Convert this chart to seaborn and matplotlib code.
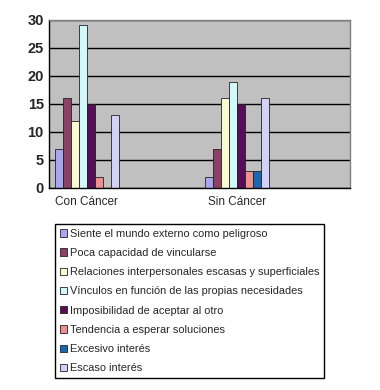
import pandas as pd
from matplotlib import pyplot as plt
import seaborn as sns

# Categories (blank slots keep the empty space Excel leaves between groups)
groups = ['Con Cáncer', ' ', 'Sin Cáncer', '  ']
series = [
    'Siente el mundo externo como peligroso',
    'Poca capacidad de vincularse',
    'Relaciones interpersonales escasas y superficiales',
    'Vínculos en función de las propias necesidades',
    'Imposibilidad de aceptar al otro',
    'Tendencia a esperar soluciones',
    'Excesivo interés',
    'Escaso interés',
]
con_cancer = [7, 16, 12, 29, 15, 2, 0, 13]
sin_cancer = [2, 7, 16, 19, 15, 3, 3, 16]
colors = ['#9999FF', '#993366', '#FFFFCC', '#CCFFFF',
          '#660066', '#FF8080', '#0066CC', '#CCCCFF']

df = pd.DataFrame({
    'grupo': ['Con Cáncer'] * len(series) + ['Sin Cáncer'] * len(series),
    'serie': series * 2,
    'valor': con_cancer + sin_cancer,
})

sns.set_style('white')
plt.rcParams['font.family'] = ['Liberation Sans', 'DejaVu Sans']

fig = plt.figure(figsize=(3.8, 3.9), dpi=100)
ax = fig.add_axes([0.13, 0.518, 0.79, 0.431])
ax.set_facecolor('#C0C0C0')

sns.barplot(data=df, x='grupo', y='valor', hue='serie', order=groups,
            hue_order=series, palette=colors, width=0.85, gap=0,
            edgecolor='#222222', linewidth=0.6, ax=ax, legend=True)

ax.set_ylim(0, 30)
ax.set_xlim(-0.5, 3.5)
ax.set_yticks(range(0, 31, 5))
ax.yaxis.grid(True, color='black', linewidth=1)
ax.set_axisbelow(True)
ax.set_xlabel('')
ax.set_ylabel('')
for lab in ax.get_yticklabels():
    lab.set_fontweight('bold')
    lab.set_fontsize(10.5)
ax.tick_params(axis='y', length=3, width=1, color='black', pad=1)
ax.set_xticks([-0.5, 0.5, 1.5, 2.5, 3.5], minor=True)
ax.tick_params(axis='x', which='major', length=0, labelsize=8.5, pad=6)
ax.tick_params(axis='x', which='minor', length=4, width=1, color='black')

for side in ['top', 'right']:
    ax.spines[side].set_color('#808080')
    ax.spines[side].set_linewidth(1)
for side in ['left', 'bottom']:
    ax.spines[side].set_color('black')
    ax.spines[side].set_linewidth(1)

# legend goes in its own framed box below the chart
handles, labels = ax.get_legend_handles_labels()
ax.get_legend().remove()
leg = fig.legend(handles, labels, loc='upper left',
                 bbox_to_anchor=(0.145, 0.426), borderaxespad=0,
                 fontsize=7.9, frameon=True, fancybox=False,
                 edgecolor='black', framealpha=1, handlelength=0.65,
                 handleheight=0.65, handletextpad=0.25, labelspacing=0.84,
                 borderpad=0.45)
leg.get_frame().set_linewidth(1)

fig.savefig('out.png', dpi=100)
